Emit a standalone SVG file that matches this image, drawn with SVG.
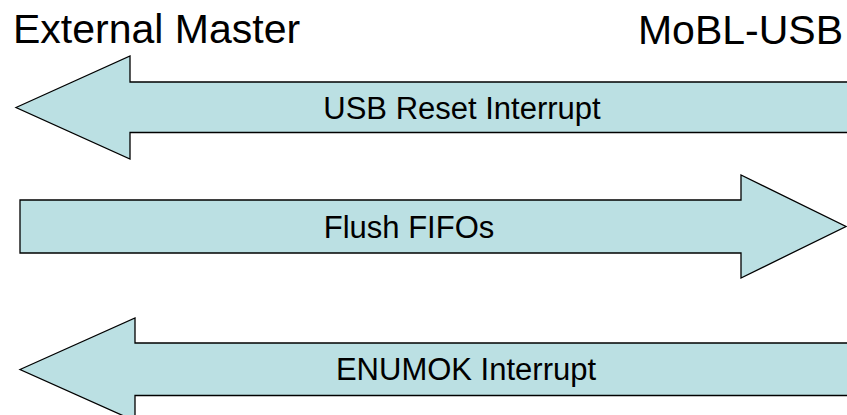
<svg xmlns="http://www.w3.org/2000/svg" width="847" height="415" viewBox="0 0 847 415">
<style>
.arrow{fill:#BBE0E3;stroke:#000;stroke-width:1.3;stroke-linejoin:miter}
.title{font-family:"Liberation Sans",Arial,sans-serif;font-size:41px;fill:#000}
.label{font-family:"Liberation Sans",Arial,sans-serif;font-size:31px;fill:#000;text-anchor:middle}
</style>
<rect width="847" height="415" fill="#fff"/>
<g id="titles">
<text class="title" x="13" y="43">External Master</text>
<text class="title" x="843" y="44" text-anchor="end">MoBL-USB</text>
</g>
<g id="connectors">
<g id="usb-reset">
<path class="arrow" d="M16,107.5 L130,56 L130,82 L860,82 L860,132.5 L130,132.5 L130,159 Z"/>
<text class="label" x="462" y="119">USB Reset Interrupt</text>
</g>
<g id="flush-fifos">
<path class="arrow" d="M20,200 L741,200 L741,175 L846,226.5 L741,278 L741,253 L20,253 Z"/>
<text class="label" x="409" y="238">Flush FIFOs</text>
</g>
<g id="enumok">
<path class="arrow" d="M20,369.5 L135,318 L135,343 L860,343 L860,395.5 L135,395.5 L135,421 Z"/>
<text class="label" x="466" y="380">ENUMOK Interrupt</text>
</g>
</g>
</svg>
